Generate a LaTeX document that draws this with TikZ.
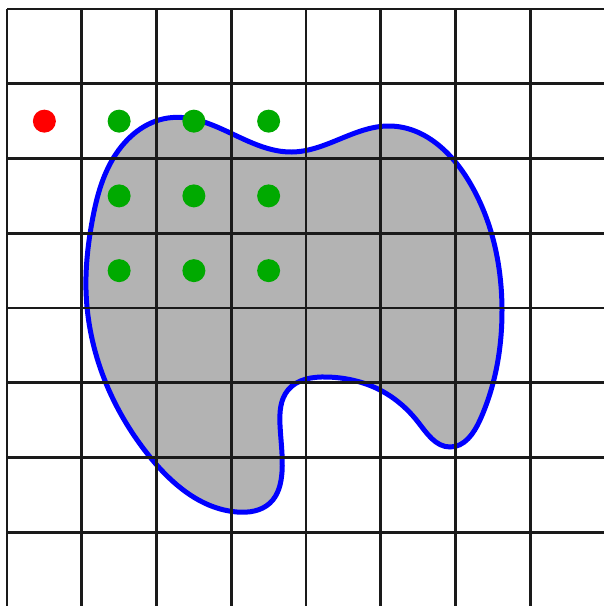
\documentclass[tikz,border=0pt]{standalone}
\usetikzlibrary{hobby}
\definecolor{gridcol}{HTML}{1A1A1A}
\definecolor{blobfill}{HTML}{B3B3B3}
\definecolor{dotgreen}{HTML}{00AA00}
\begin{document}
\begin{tikzpicture}[x=1pt,y=-1pt,
  gridline/.style={draw=gridcol,line width=2.7pt},
  blob/.style={draw=blue,fill=blobfill,line width=5pt},
  gdot/.style={circle,fill=dotgreen,inner sep=0pt,minimum size=23pt},
  rdot/.style={circle,fill=red,inner sep=0pt,minimum size=23pt}]
\useasboundingbox (0,0) rectangle (604,606);
\fill[white] (0,0) rectangle (604,606);
\draw[blob,use Hobby shortcut,closed=true]
 (168,118) .. (292,152) .. (390,126) .. (470,183) .. (502,310) .. (480,420)
 .. (450,447) .. (418,422) .. (378,389) .. (327,377) .. (288,390) .. (280,425)
 .. (282,472) .. (270,503) .. (237,512) .. (150,457) .. (86,290) .. (92,222) .. (114,157);
\foreach \i in {0,...,8} {
  \draw[gridline] ({7+74.75*\i},9) -- ({7+74.75*\i},606);
  \draw[gridline] (7,{9+74.75*\i}) -- (604,{9+74.75*\i});
}
\node[rdot] (r) at ({7+74.75*0.5},{9+74.75*1.5}) {};
\foreach \cx in {1,2,3} \foreach \cy in {1,2,3}
  \node[gdot] (g\cx\cy) at ({7+74.75*(\cx+0.5)},{9+74.75*(\cy+0.5)}) {};
\end{tikzpicture}
\end{document}
